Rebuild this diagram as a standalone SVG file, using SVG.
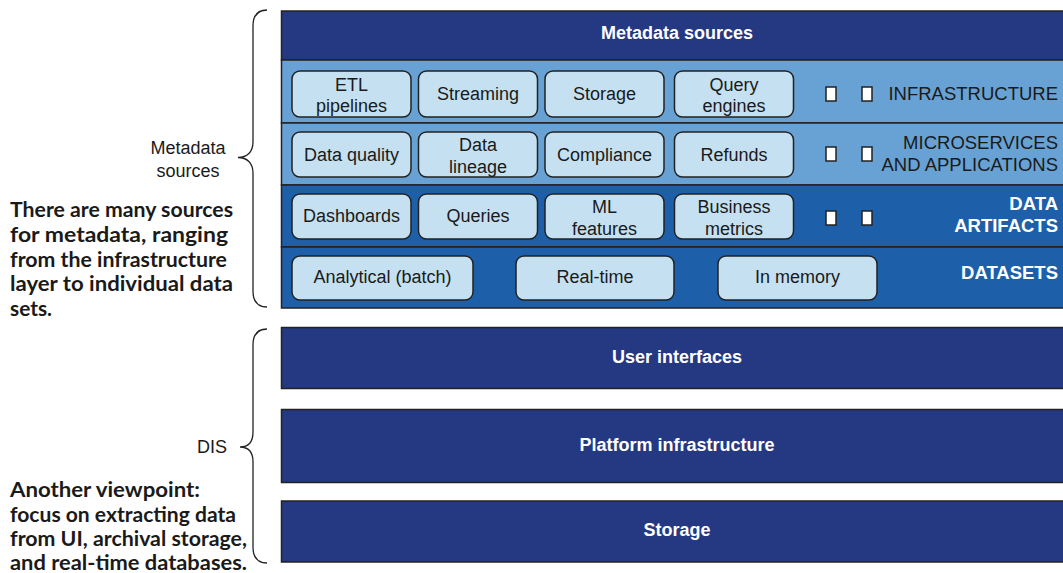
<svg xmlns="http://www.w3.org/2000/svg" width="1063" height="573" viewBox="0 0 1063 573">
<style>
.hdr{fill:#253882;stroke:#222;stroke-width:1.5}
.lrow{fill:#68A2D4;stroke:#222;stroke-width:1.5}
.drow{fill:#1E5FAA;stroke:#222;stroke-width:1.5}
.pill{fill:#C5E1F1;stroke:#222;stroke-width:1.5}
.sq{fill:#fff;stroke:#222;stroke-width:1.5}
.pt{font-family:"Liberation Sans",Arial,sans-serif;font-size:18px;fill:#1a1a1a;text-anchor:middle}
.wt{font-family:"Liberation Sans",Arial,sans-serif;font-size:18px;font-weight:bold;fill:#fff;text-anchor:middle}
.rl{font-family:"Liberation Sans",Arial,sans-serif;font-size:18.5px;fill:#1a1a1a;text-anchor:end}
.rlb{font-family:"Liberation Sans",Arial,sans-serif;font-size:18.5px;font-weight:bold;fill:#fff;text-anchor:end}
.lbl{font-family:"Liberation Sans",Arial,sans-serif;font-size:18px;fill:#1a1a1a;text-anchor:middle}
.note{font-family:Lato,"Open Sans",sans-serif;font-size:21px;font-weight:bold;fill:#1a1a1a}
.brace{fill:none;stroke:#222;stroke-width:1.3}
</style>
<g id="metadata-sources-header">
<rect class="hdr" x="281.5" y="11" width="784" height="49"/>
<text class="wt" x="677" y="39">Metadata sources</text>
</g>
<g id="layer-infrastructure">
<rect class="lrow" x="281.5" y="60" width="784" height="63"/>
<text class="rl" x="1058" y="99.5">INFRASTRUCTURE</text>
<rect class="sq" x="826" y="87" width="10" height="14"/>
<rect class="sq" x="862" y="87" width="10" height="14"/>
</g>
<g id="layer-microservices">
<rect class="lrow" x="281.5" y="123" width="784" height="62"/>
<text class="rl" x="1058" y="149">MICROSERVICES</text>
<text class="rl" x="1058" y="171">AND APPLICATIONS</text>
<rect class="sq" x="826" y="147" width="10" height="14"/>
<rect class="sq" x="862" y="147" width="10" height="14"/>
</g>
<g id="layer-data-artifacts">
<rect class="drow" x="281.5" y="185" width="784" height="62"/>
<text class="rlb" x="1058" y="210">DATA</text>
<text class="rlb" x="1058" y="232">ARTIFACTS</text>
<rect class="sq" x="826" y="211" width="10" height="14"/>
<rect class="sq" x="862" y="211" width="10" height="14"/>
</g>
<g id="layer-datasets">
<rect class="drow" x="281.5" y="247" width="784" height="61"/>
<text class="rlb" x="1058" y="279">DATASETS</text>
</g>
<g id="etl-pipelines"><rect class="pill" x="292" y="71" width="119" height="46" rx="8"/><text class="pt" x="351.5" y="91">ETL</text><text class="pt" x="351.5" y="112">pipelines</text></g>
<g id="streaming"><rect class="pill" x="418.5" y="71" width="119" height="46" rx="8"/><text class="pt" x="478" y="99.5">Streaming</text></g>
<g id="storage-src"><rect class="pill" x="545" y="71" width="119" height="46" rx="8"/><text class="pt" x="604.5" y="99.5">Storage</text></g>
<g id="query-engines"><rect class="pill" x="674.5" y="71" width="119" height="46" rx="8"/><text class="pt" x="734" y="91">Query</text><text class="pt" x="734" y="112">engines</text></g>
<g id="data-quality"><rect class="pill" x="292" y="132" width="119" height="45" rx="8"/><text class="pt" x="351.5" y="160.5">Data quality</text></g>
<g id="data-lineage"><rect class="pill" x="418.5" y="132" width="119" height="45" rx="8"/><text class="pt" x="478" y="151">Data</text><text class="pt" x="478" y="173">lineage</text></g>
<g id="compliance"><rect class="pill" x="545" y="132" width="119" height="45" rx="8"/><text class="pt" x="604.5" y="160.5">Compliance</text></g>
<g id="refunds"><rect class="pill" x="674.5" y="132" width="119" height="45" rx="8"/><text class="pt" x="734" y="160.5">Refunds</text></g>
<g id="dashboards"><rect class="pill" x="292" y="194" width="119" height="45" rx="8"/><text class="pt" x="351.5" y="222">Dashboards</text></g>
<g id="queries"><rect class="pill" x="418.5" y="194" width="119" height="45" rx="8"/><text class="pt" x="478" y="222">Queries</text></g>
<g id="ml-features"><rect class="pill" x="545" y="194" width="119" height="45" rx="8"/><text class="pt" x="604.5" y="213">ML</text><text class="pt" x="604.5" y="235">features</text></g>
<g id="business-metrics"><rect class="pill" x="674.5" y="194" width="119" height="45" rx="8"/><text class="pt" x="734" y="213">Business</text><text class="pt" x="734" y="235">metrics</text></g>
<g id="analytical-batch"><rect class="pill" x="292" y="256" width="181" height="44" rx="8"/><text class="pt" x="382.5" y="283">Analytical (batch)</text></g>
<g id="real-time"><rect class="pill" x="516" y="256" width="158" height="44" rx="8"/><text class="pt" x="595" y="283">Real-time</text></g>
<g id="in-memory"><rect class="pill" x="718" y="256" width="159" height="44" rx="8"/><text class="pt" x="797.5" y="283">In memory</text></g>
<g id="user-interfaces"><rect class="hdr" x="281.5" y="327.5" width="784" height="61"/><text class="wt" x="677" y="362.5">User interfaces</text></g>
<g id="platform-infrastructure"><rect class="hdr" x="281.5" y="409.5" width="784" height="73"/><text class="wt" x="677" y="450.5">Platform infrastructure</text></g>
<g id="storage"><rect class="hdr" x="281.5" y="501" width="784" height="61"/><text class="wt" x="677" y="536">Storage</text></g>
<g id="connectors">
<path class="brace" d="M267,10 C258,10 253,15 253,26 L253,142 C253,152 247,157.5 238,157.5 C247,157.5 253,163 253,173 L253,291 C253,302 258,307 267,307"/>
<path class="brace" d="M267,329 C258,329 253,334 253,345 L253,432 C253,442 248,447 240,447 C248,447 253,452 253,462 L253,547 C253,558 258,563 267,563"/>
</g>
<g id="annotation-metadata">
<text class="lbl" x="188" y="154">Metadata</text>
<text class="lbl" x="188" y="177">sources</text>
<text class="note" x="10" y="217" textLength="223" lengthAdjust="spacingAndGlyphs">There are many sources</text>
<text class="note" x="10" y="242" textLength="218" lengthAdjust="spacingAndGlyphs">for metadata, ranging</text>
<text class="note" x="10" y="266.5" textLength="217" lengthAdjust="spacingAndGlyphs">from the infrastructure</text>
<text class="note" x="10" y="291" textLength="223" lengthAdjust="spacingAndGlyphs">layer to individual data</text>
<text class="note" x="10" y="315.5" textLength="42" lengthAdjust="spacingAndGlyphs">sets.</text>
</g>
<g id="annotation-dis">
<text class="lbl" x="212" y="453">DIS</text>
<text class="note" x="10" y="497" textLength="190" lengthAdjust="spacingAndGlyphs">Another viewpoint:</text>
<text class="note" x="10" y="521.5" textLength="226" lengthAdjust="spacingAndGlyphs">focus on extracting data</text>
<text class="note" x="10" y="546" textLength="237" lengthAdjust="spacingAndGlyphs">from UI, archival storage,</text>
<text class="note" x="10" y="569.5" textLength="237" lengthAdjust="spacingAndGlyphs">and real-time databases.</text>
</g>
</svg>
